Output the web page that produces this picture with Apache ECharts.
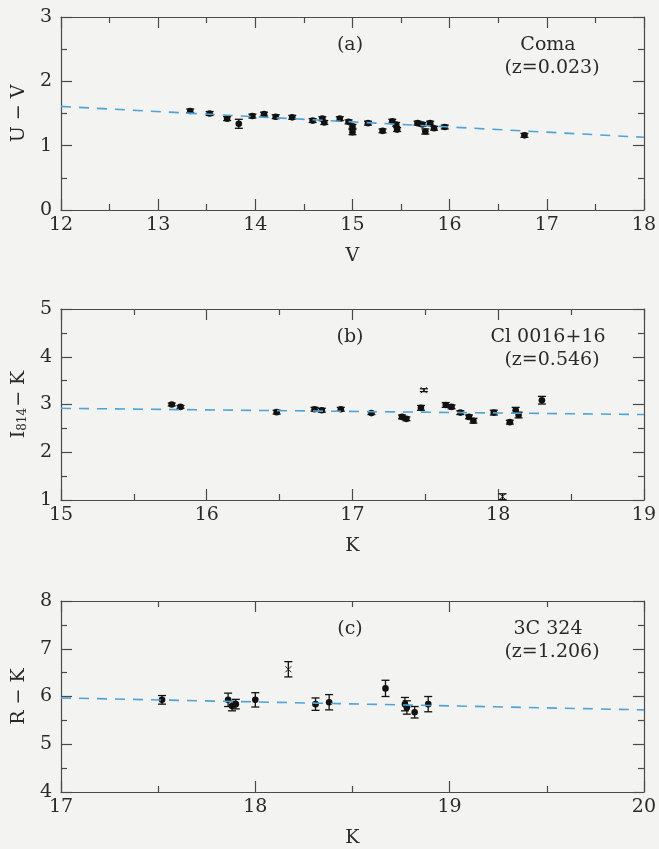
<!DOCTYPE html>
<html>
<head>
<meta charset="utf-8">
<title>colour-magnitude relations</title>
<script src="https://cdn.jsdelivr.net/npm/echarts@6/dist/echarts.min.js"></script>
<style>
  html, body { margin: 0; padding: 0; background: #f3f3f1; }
  #chart { width: 659px; height: 849px; }
</style>
</head>
<body>
<div id="chart"></div>
<script>
// (a) Coma, z=0.023 : V vs U-V
const comaV   = [13.33, 13.53, 13.71, 13.83, 13.97, 14.09, 14.21, 14.38, 14.59, 14.69, 14.71, 14.87, 14.96, 15.00, 15.00,
                 15.16, 15.31, 15.41, 15.45, 15.46, 15.67, 15.72, 15.75, 15.80, 15.84, 15.95, 16.77];
const comaUV  = [1.54, 1.50, 1.42, 1.34, 1.46, 1.49, 1.45, 1.44, 1.39, 1.42, 1.36, 1.42, 1.37, 1.30, 1.21,
                 1.35, 1.23, 1.38, 1.33, 1.25, 1.35, 1.33, 1.22, 1.35, 1.27, 1.29, 1.16];
const comaErr = [0.03, 0.03, 0.03, 0.07, 0.03, 0.03, 0.03, 0.03, 0.03, 0.03, 0.03, 0.03, 0.03, 0.03, 0.04,
                 0.03, 0.03, 0.03, 0.03, 0.03, 0.03, 0.03, 0.04, 0.03, 0.03, 0.03, 0.03];
const comaFit = [[12, 1.61], [18, 1.13]];

// (b) Cl 0016+16, z=0.546 : K vs I814-K   (kind 1 = cross)
const clK    = [15.76, 15.82, 16.48, 16.74, 16.79, 16.92, 17.13, 17.34, 17.37, 17.47, 17.49, 17.64, 17.68, 17.74,
                17.80, 17.83, 17.97, 18.08, 18.12, 18.14, 18.30, 18.03];
const clIK   = [3.00, 2.95, 2.84, 2.90, 2.88, 2.90, 2.82, 2.74, 2.70, 2.93, 3.30, 2.99, 2.95, 2.83,
                2.74, 2.66, 2.83, 2.63, 2.88, 2.78, 3.09, 1.07];
const clErr  = [0.03, 0.03, 0.04, 0.04, 0.04, 0.04, 0.03, 0.04, 0.04, 0.05, 0.03, 0.05, 0.04, 0.04,
                0.04, 0.05, 0.05, 0.04, 0.06, 0.06, 0.08, 0.06];
const clKind = [0, 0, 0, 0, 0, 0, 0, 0, 0, 0, 1, 0, 0, 0, 0, 0, 0, 0, 0, 0, 0, 1];
const clFit  = [[15, 2.92], [19, 2.79]];

// (c) 3C 324, z=1.206 : K vs R-K
const c3K    = [17.52, 17.86, 17.88, 17.90, 18.00, 18.17, 18.31, 18.38, 18.67, 18.77, 18.78, 18.82, 18.89];
const c3RK   = [5.93, 5.93, 5.80, 5.84, 5.93, 6.57, 5.84, 5.88, 6.17, 5.84, 5.77, 5.67, 5.84];
const c3Err  = [0.09, 0.14, 0.10, 0.10, 0.15, 0.16, 0.13, 0.16, 0.17, 0.14, 0.14, 0.12, 0.16];
const c3Kind = [0, 0, 0, 0, 0, 1, 0, 0, 0, 0, 0, 0, 0];
const c3Fit  = [[17, 5.97], [20, 5.72]];

const SERIF = 'DejaVu Serif';
const AXIS_COLOR = '#4a4a4a';
const FIT_COLOR = '#4ea3d9';

function rows(xs, ys, es, kinds) {
  return xs.map((x, i) => [x, ys[i], es[i], kinds ? kinds[i] : 0]);
}

function renderErr(params, api) {
  const x = api.value(0), y = api.value(1), e = api.value(2), kind = api.value(3);
  const p = api.coord([x, y]);
  const hi = api.coord([x, y + e])[1];
  const lo = api.coord([x, y - e])[1];
  const w = 4;
  const st = { stroke: '#111', lineWidth: 1.3 };
  const kids = [
    { type: 'line', shape: { x1: p[0], y1: hi, x2: p[0], y2: lo }, style: st },
    { type: 'line', shape: { x1: p[0] - w, y1: hi, x2: p[0] + w, y2: hi }, style: st },
    { type: 'line', shape: { x1: p[0] - w, y1: lo, x2: p[0] + w, y2: lo }, style: st }
  ];
  if (kind === 1) {
    const r = 3;
    kids.push({ type: 'line', shape: { x1: p[0] - r, y1: p[1] - r, x2: p[0] + r, y2: p[1] + r }, style: { stroke: '#222', lineWidth: 1 } });
    kids.push({ type: 'line', shape: { x1: p[0] - r, y1: p[1] + r, x2: p[0] + r, y2: p[1] - r }, style: { stroke: '#222', lineWidth: 1 } });
  } else {
    kids.push({ type: 'circle', shape: { cx: p[0], cy: p[1], r: 3.3 }, style: { fill: '#111' } });
  }
  return { type: 'group', children: kids };
}

const grids = [
  { left: 61, top: 17, width: 584, height: 193 },
  { left: 61, top: 309, width: 584, height: 191 },
  { left: 61, top: 601, width: 584, height: 191 }
];
const xr = [[12, 18, 'V'], [15, 19, 'K'], [17, 20, 'K']];
const yr = [[0, 3, 'U − V'], [1, 5, '{i|I}{s|814}{i|− K}'], [4, 8, 'R − K']];

const xAxes = [], yAxes = [];
function baseAxis(gi, min, max, pos, labels) {
  return {
    type: 'value', gridIndex: gi, min: min, max: max, interval: 1, position: pos,
    axisLine: { show: true, onZero: false, lineStyle: { color: AXIS_COLOR, width: 1.2 } },
    axisTick: { show: true, inside: true, length: 11, lineStyle: { color: AXIS_COLOR, width: 1.2 } },
    minorTick: { show: true, splitNumber: 2, length: 6, lineStyle: { color: AXIS_COLOR, width: 1.2 } },
    splitLine: { show: false },
    axisLabel: { show: labels, fontFamily: SERIF, fontSize: 19, color: '#2a2a2a' }
  };
}
for (let g = 0; g < 3; g++) {
  const xb = baseAxis(g, xr[g][0], xr[g][1], 'bottom', true);
  xb.axisLabel.margin = 6;
  xb.name = xr[g][2];
  xb.nameLocation = 'middle';
  xb.nameGap = 37;
  xb.nameTextStyle = { fontFamily: SERIF, fontSize: 19, color: '#2a2a2a' };
  xAxes.push(xb);
  xAxes.push(baseAxis(g, xr[g][0], xr[g][1], 'top', false));

  const yl = baseAxis(g, yr[g][0], yr[g][1], 'left', true);
  yl.axisLabel.margin = 9;
  yl.name = yr[g][2];
  yl.nameLocation = 'middle';
  yl.nameGap = 32;
  yl.nameTextStyle = {
    fontFamily: SERIF, fontSize: 19, color: '#2a2a2a',
    rich: {
      i: { fontFamily: SERIF, fontSize: 19, color: '#2a2a2a' },
      s: { fontFamily: SERIF, fontSize: 12, color: '#2a2a2a', verticalAlign: 'bottom', padding: [8, 1, 0, 0] }
    }
  };
  yAxes.push(yl);
  yAxes.push(baseAxis(g, yr[g][0], yr[g][1], 'right', false));
}

const fits = [comaFit, clFit, c3Fit];
const pts = [rows(comaV, comaUV, comaErr), rows(clK, clIK, clErr, clKind), rows(c3K, c3RK, c3Err, c3Kind)];
const series = [];
for (let g = 0; g < 3; g++) {
  series.push({
    type: 'line', xAxisIndex: g * 2, yAxisIndex: g * 2, data: fits[g],
    symbol: 'none', silent: true,
    lineStyle: { color: FIT_COLOR, width: 1.6, type: [10, 8] }
  });
  series.push({
    type: 'custom', xAxisIndex: g * 2, yAxisIndex: g * 2, data: pts[g],
    encode: { x: 0, y: 1 }, renderItem: renderErr
  });
}

const panelText = [
  ['(a)', 'Coma', '(z=0.023)'],
  ['(b)', 'Cl 0016+16', '(z=0.546)'],
  ['(c)', '3C 324', '(z=1.206)']
];
const FONT = '19px "DejaVu Serif"';
const graphic = [];
for (let g = 0; g < 3; g++) {
  const top = grids[g].top;
  graphic.push({ type: 'text', x: 350, y: top + 19, style: { text: panelText[g][0], font: FONT, fill: '#2a2a2a', align: 'center' } });
  graphic.push({ type: 'text', x: 548, y: top + 19, style: { text: panelText[g][1], font: FONT, fill: '#2a2a2a', align: 'center' } });
  graphic.push({ type: 'text', x: 552, y: top + 42, style: { text: panelText[g][2], font: FONT, fill: '#2a2a2a', align: 'center' } });
}

const chart = echarts.init(document.getElementById('chart'));
chart.setOption({
  backgroundColor: '#f3f3f1',
  animation: false,
  grid: grids,
  xAxis: xAxes,
  yAxis: yAxes,
  series: series,
  graphic: graphic
});
</script>
</body>
</html>
